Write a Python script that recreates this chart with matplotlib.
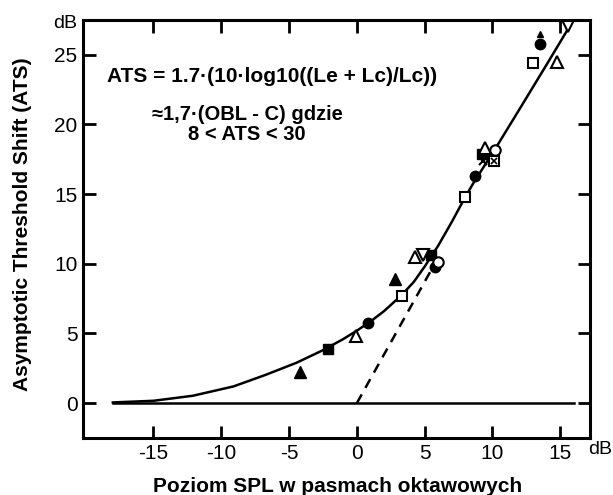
import matplotlib
matplotlib.use('Agg')
import matplotlib.pyplot as plt

plt.rcParams['font.family'] = ['Liberation Sans', 'DejaVu Sans']

# fitted curve
curve_x = [-18, -15, -12.1, -9.1, -6.7, -4.45, -2.5, -1.0, 0, 1.06, 2, 3.3, 4.2, 5, 6, 7, 8, 8.6, 10.3, 12, 14, 15.85]
curve_y = [0.05, 0.17, 0.53, 1.2, 2.04, 2.9, 3.8, 4.6, 5.2, 5.9, 6.6, 7.75, 8.7, 9.8, 11.3, 13.0, 14.8, 15.8, 18.4, 21.1, 24.3, 27.3]

# asymptote (dashed)
asym_x = [0, 5.8]
asym_y = [0, 10.1]

# measured points, one group per marker kind
tri_filled_x = [-4.2, 2.8]
tri_filled_y = [2.2, 8.9]
sq_filled_x = [-2.1, 5.5, 9.2]
sq_filled_y = [3.9, 10.6, 17.9]
tri_open_x = [-0.07, 4.3, 9.45, 14.75]
tri_open_y = [4.85, 10.5, 18.3, 24.5]
circ_filled_x = [0.84, 5.8, 8.7, 13.5]
circ_filled_y = [5.77, 9.8, 16.3, 25.8]
sq_open_x = [3.3, 8.0, 13.0]
sq_open_y = [7.7, 14.8, 24.4]
tri_down_x = [4.9, 15.6]
tri_down_y = [10.6, 27.1]
circ_open_x = [6.0, 10.2]
circ_open_y = [10.15, 18.2]
cross_x = [9.3]
cross_y = [17.4]
sq_cross_x = [10.1]
sq_cross_y = [17.4]
drop_x = [13.5]
drop_y = [26.5]

xticks = [-15, -10, -5, 0, 5, 10, 15]
yticks = [0, 5, 10, 15, 20, 25]

fig = plt.figure(figsize=(6.13, 4.95), dpi=100)
ax = fig.add_axes([0.1354, 0.1152, 0.8271, 0.8444])

ax.plot([-18, 16], [0, 0], color='black', lw=1.8)
ax.plot(curve_x, curve_y, color='black', lw=1.8, solid_joinstyle='round')
ax.plot(asym_x, asym_y, color='black', lw=1.8, ls=(0, (4, 3)))

ms = 8.5
ax.plot(tri_filled_x, tri_filled_y, '^', color='black', ms=ms)
ax.plot(drop_x, drop_y, '^', color='black', ms=5)
ax.plot(sq_filled_x, sq_filled_y, 's', color='black', ms=ms - 1)
ax.plot(circ_filled_x, circ_filled_y, 'o', color='black', ms=ms - 1)
ax.plot(tri_open_x, tri_open_y, '^', mfc='white', mec='black', mew=1.5, ms=ms)
ax.plot(sq_open_x, sq_open_y, 's', mfc='white', mec='black', mew=1.5, ms=ms - 1)
ax.plot(tri_down_x, tri_down_y, 'v', mfc='white', mec='black', mew=1.5, ms=ms)
ax.plot(circ_open_x, circ_open_y, 'o', mfc='white', mec='black', mew=1.5, ms=ms - 1)
ax.plot(cross_x, cross_y, 'x', color='black', mew=1.5, ms=6)
ax.plot(sq_cross_x, sq_cross_y, 's', mfc='white', mec='black', mew=1.5, ms=ms - 1)
ax.plot(sq_cross_x, sq_cross_y, 'x', color='black', mew=1.2, ms=5)

ax.set_xlim(-20.2, 17.2)
ax.set_ylim(-2.5, 27.5)
ax.set_xticks(xticks)
ax.set_yticks(yticks)
ax.set_xticklabels([str(t) for t in xticks])
ax.tick_params(direction='in', length=9, width=2, labelsize=15, pad=4,
               top=True, right=True)
for s in ax.spines.values():
    s.set_linewidth(2.2)

fig.text(338 / 613, 1 - 486 / 495, 'Poziom SPL w pasmach oktawowych',
         fontsize=15, fontweight='bold', ha='center', va='center')
fig.text(23 / 613, 1 - 224 / 495, 'Asymptotic Threshold Shift (ATS)',
         fontsize=15, fontweight='bold', ha='center', va='center', rotation=90)

fig.text(65 / 613, 1 - 24 / 495, 'dB', fontsize=14, ha='center', va='center')
fig.text(600 / 613, 1 - 449 / 495, 'dB', fontsize=14, ha='center', va='center')

fig.text(272 / 613, 1 - 76 / 495, 'ATS = 1.7·(10·log10((Le + Lc)/Lc))',
         fontsize=15, fontweight='bold', ha='center', va='center')
fig.text(247 / 613, 1 - 115 / 495, '≈1,7·(OBL - C) gdzie',
         fontsize=14.5, fontweight='bold', ha='center', va='center')
fig.text(247 / 613, 1 - 135 / 495, '8 < ATS < 30',
         fontsize=14.5, fontweight='bold', ha='center', va='center')

fig.savefig('out.png', dpi=100)
